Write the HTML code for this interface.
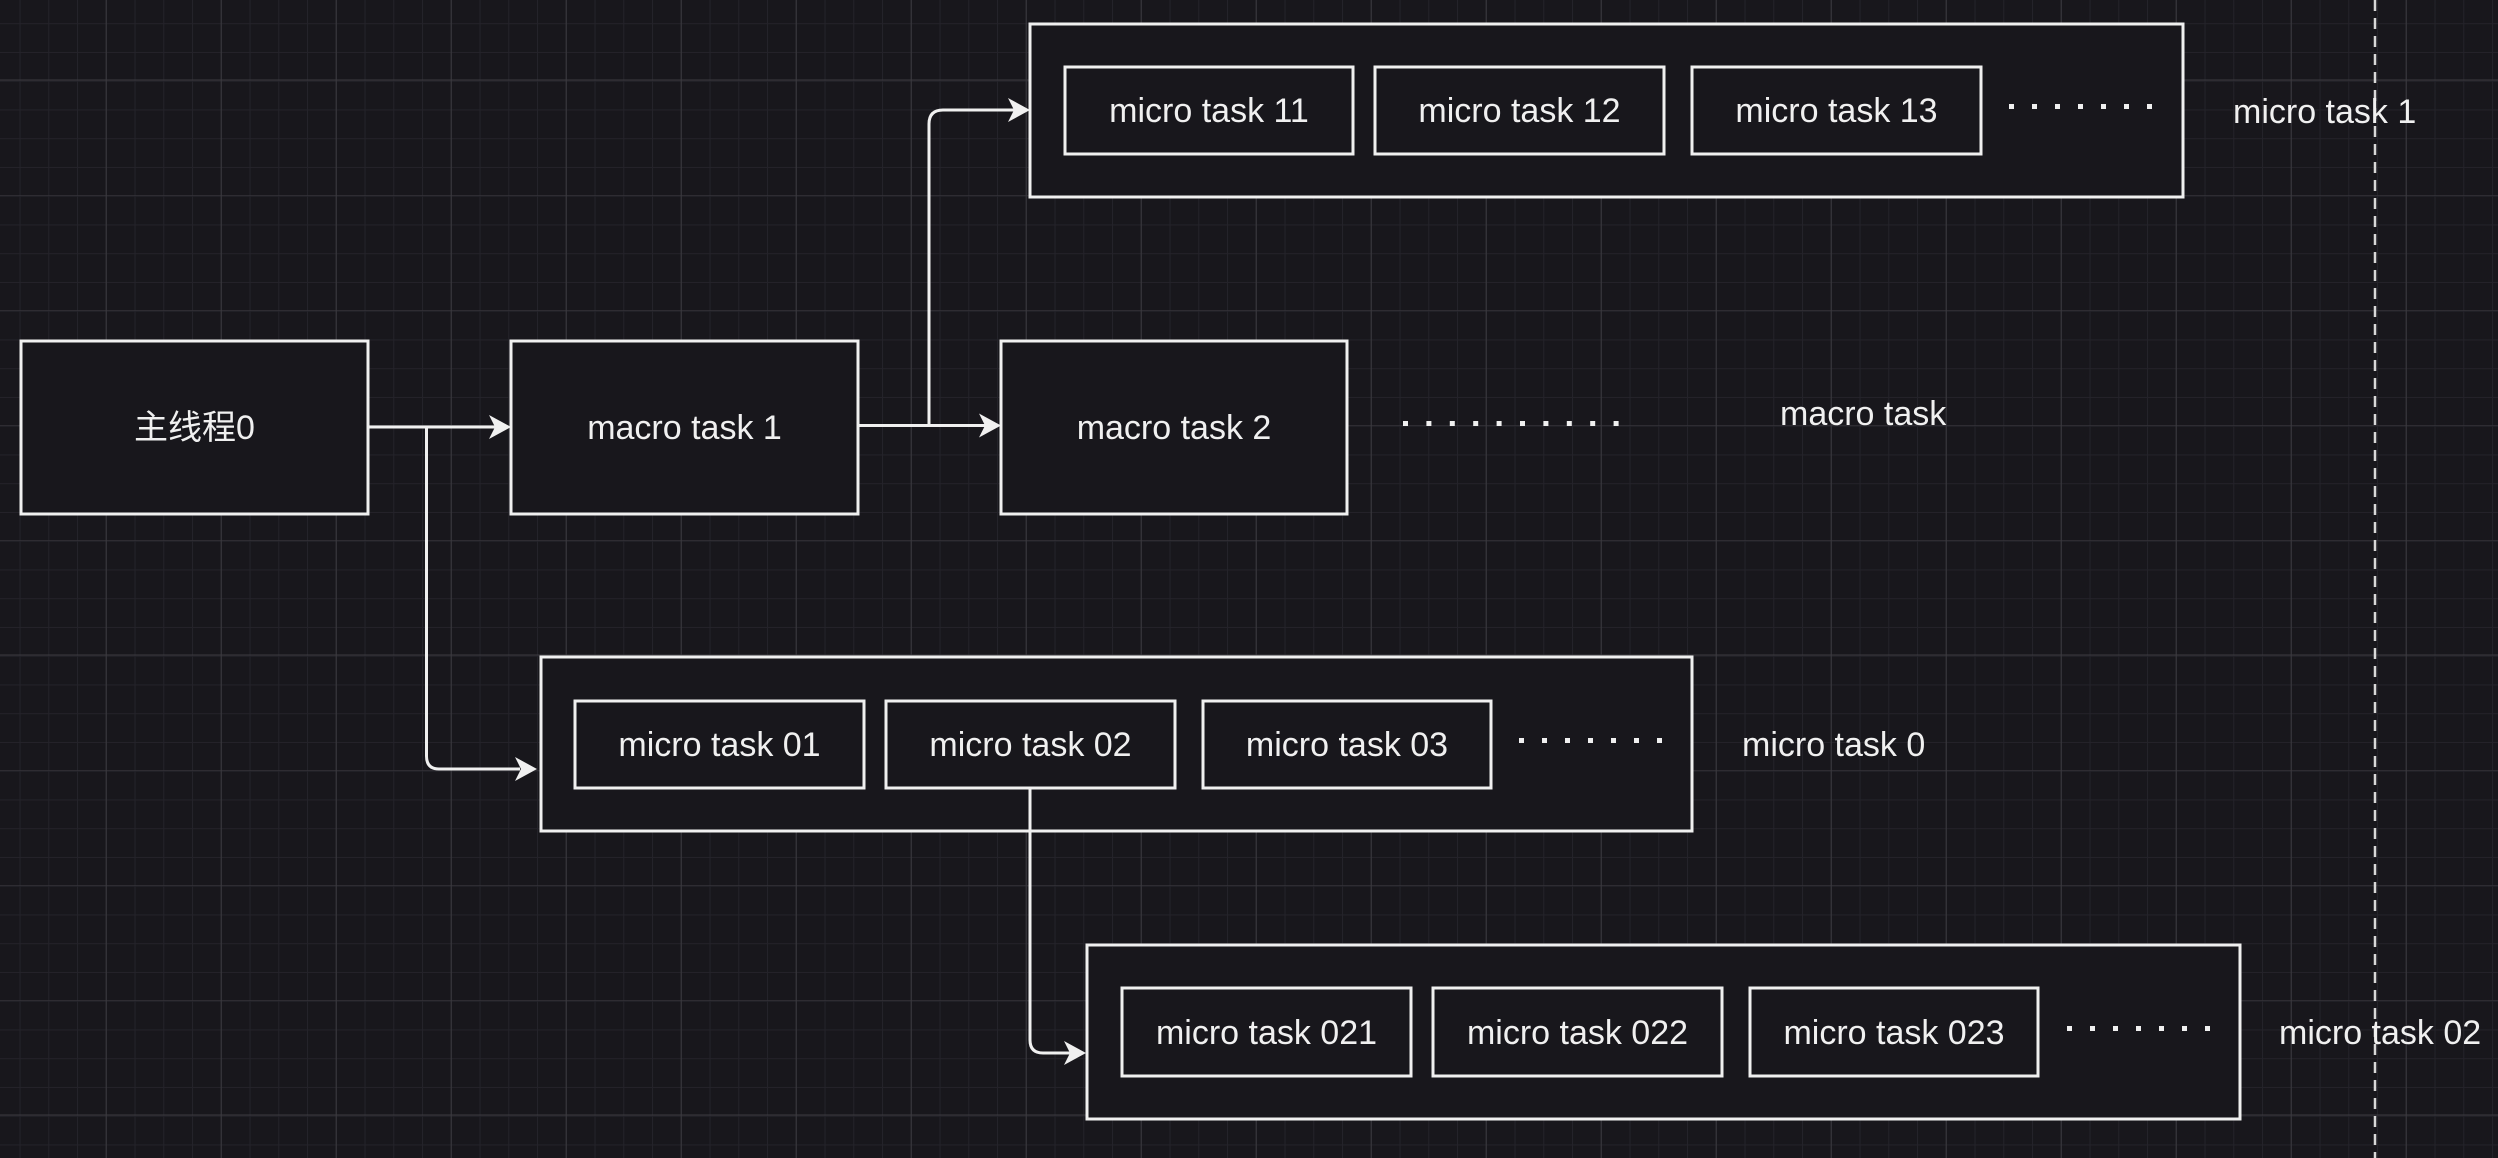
<!DOCTYPE html>
<html><head><meta charset="utf-8"><style>
html,body{margin:0;padding:0;background:#18171c;}
svg{display:block}
text{font-family:"Liberation Sans","Noto Sans CJK SC",sans-serif;font-size:34px;fill:#f0f0f0;}
</style></head><body>
<svg width="2498" height="1158" viewBox="0 0 2498 1158" xmlns="http://www.w3.org/2000/svg">
<defs>
<pattern id="minor" x="19.5" y="23.2" width="28.75" height="28.75" patternUnits="userSpaceOnUse">
<path d="M0 0V28.75M0 0H28.75" stroke="#24232a" stroke-width="2" fill="none"/>
</pattern>
<pattern id="major" x="105.7" y="79.5" width="115" height="115" patternUnits="userSpaceOnUse">
<path d="M0 0V115M0 0H115" stroke="#3c3b40" stroke-width="2" fill="none"/>
</pattern>
</defs>
<rect width="2498" height="1158" fill="#18171c"/>
<rect width="2498" height="1158" fill="url(#minor)"/>
<rect width="2498" height="1158" fill="url(#major)"/>

<line x1="2375" y1="0" x2="2375" y2="1158" stroke="#d8d8d8" stroke-width="2.5" stroke-dasharray="11 7"/>

<g fill="#18171c" stroke="#f0f0f0" stroke-width="3">
<rect x="21" y="341" width="347" height="173"/>
<rect x="511" y="341" width="347" height="173"/>
<rect x="1001" y="341" width="346" height="173"/>
<rect x="1030" y="24" width="1153" height="173"/>
<rect x="1065" y="67" width="288" height="87"/>
<rect x="1375" y="67" width="289" height="87"/>
<rect x="1692" y="67" width="289" height="87"/>
<rect x="541" y="657" width="1151" height="174"/>
<rect x="575" y="701" width="289" height="87"/>
<rect x="886" y="701" width="289" height="87"/>
<rect x="1203" y="701" width="288" height="87"/>
<rect x="1087" y="945" width="1153" height="174"/>
<rect x="1122" y="988" width="289" height="88"/>
<rect x="1433" y="988" width="289" height="88"/>
<rect x="1750" y="988" width="288" height="88"/>
</g>

<g stroke="#f0f0f0" stroke-width="3" fill="none">
<path d="M368 427H495"/>
<path d="M426.5 427V756Q426.5 769 439 769H520"/>
<path d="M858 425.5H985"/>
<path d="M929 425.5V124Q929 110 943 110H1014"/>
<path d="M1030 788V1040Q1030 1053 1043 1053H1071"/>
</g>
<g fill="#f0f0f0">
<path d="M511 427L489 415L495 427L489 439Z"/>
<path d="M1001 425.5L979 413.5L985 425.5L979 437.5Z"/>
<path d="M1030 110L1008 98L1014 110L1008 122Z"/>
<path d="M537 769L515 757L521 769L515 781Z"/>
<path d="M1086 1053L1064 1041L1070 1053L1064 1065Z"/>
</g>

<g fill="#f0f0f0">
<g transform="translate(1403,421)">
<rect x="0" width="5" height="5"/><rect x="23.4" width="5" height="5"/><rect x="46.8" width="5" height="5"/><rect x="70.2" width="5" height="5"/><rect x="93.6" width="5" height="5"/><rect x="117" width="5" height="5"/><rect x="140.4" width="5" height="5"/><rect x="163.8" width="5" height="5"/><rect x="187.2" width="5" height="5"/><rect x="210.6" width="5" height="5"/>
</g>
<g transform="translate(2009,104)">
<rect x="0" width="5" height="5"/><rect x="23" width="5" height="5"/><rect x="46" width="5" height="5"/><rect x="69" width="5" height="5"/><rect x="92" width="5" height="5"/><rect x="115" width="5" height="5"/><rect x="138" width="5" height="5"/>
</g>
<g transform="translate(1519,738)">
<rect x="0" width="5" height="5"/><rect x="23" width="5" height="5"/><rect x="46" width="5" height="5"/><rect x="69" width="5" height="5"/><rect x="92" width="5" height="5"/><rect x="115" width="5" height="5"/><rect x="138" width="5" height="5"/>
</g>
<g transform="translate(2067,1026)">
<rect x="0" width="5" height="5"/><rect x="23" width="5" height="5"/><rect x="46" width="5" height="5"/><rect x="69" width="5" height="5"/><rect x="92" width="5" height="5"/><rect x="115" width="5" height="5"/><rect x="138" width="5" height="5"/>
</g>
</g>

<g text-anchor="middle">
<text x="194.5" y="439">主线程0</text>
<text x="684.5" y="439">macro task 1</text>
<text x="1174" y="439">macro task 2</text>
<text x="1209" y="122">micro task 11</text>
<text x="1519.5" y="122">micro task 12</text>
<text x="1836.5" y="122">micro task 13</text>
<text x="719.5" y="756">micro task 01</text>
<text x="1030.5" y="756">micro task 02</text>
<text x="1347" y="756">micro task 03</text>
<text x="1266.5" y="1044">micro task 021</text>
<text x="1577.5" y="1044">micro task 022</text>
<text x="1894" y="1044">micro task 023</text>
</g>
<text x="1780" y="425">macro task</text>
<text x="2233" y="123">micro task 1</text>
<text x="1742" y="756">micro task 0</text>
<text x="2279" y="1044">micro task 02</text>
</svg>
</body></html>
